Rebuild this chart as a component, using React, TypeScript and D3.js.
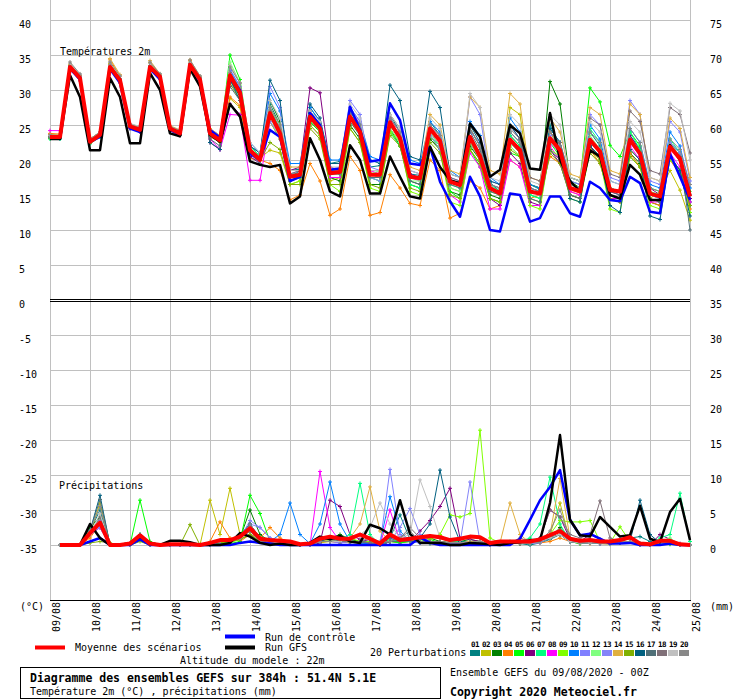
import React, { useEffect, useRef } from 'react';
import * as d3 from 'd3';

// ---- axis labels ----
const dayLabels = ['09/08', '10/08', '11/08', '12/08', '13/08', '14/08', '15/08', '16/08', '17/08',
  '18/08', '19/08', '20/08', '21/08', '22/08', '23/08', '24/08', '25/08'];
const leftTicks = [40, 35, 30, 25, 20, 15, 10, 5, 0, -5, -10, -15, -20, -25, -30, -35];
const rightTicks = [75, 70, 65, 60, 55, 50, 45, 40, 35, 30, 25, 20, 15, 10, 5, 0];

const memberNames = ['01', '02', '03', '04', '05', '06', '07', '08', '09', '10',
  '11', '12', '13', '14', '15', '16', '17', '18', '19', '20'];
const memberColors = ['#008080', '#C0C000', '#008000', '#FF8000', '#00FF00', '#800080', '#00FF80', '#FF00FF',
  '#80FF00', '#0080FF', '#8080FF', '#80FF80', '#8484F8', '#E0B040', '#80B000', '#006080',
  '#507078', '#807078', '#C0C0C0', '#888888'];

// ---- temperature 2m, every 6h (65 steps) ----
const tempMean = [23.3, 23.3, 33.3, 31.7, 22.6, 23.6, 33.3, 31.4, 24.8, 24.3, 33.3, 31.9, 24.5, 23.8, 33.6, 31.5,
  23.8, 22.8, 32.1, 29.6, 21.4, 20.0, 26.7, 23.8, 17.6, 17.9, 26.2, 24.5, 18.1, 18.3, 26.2, 24.0,
  17.9, 17.9, 25.4, 23.1, 17.6, 17.4, 24.5, 22.7, 16.9, 16.4, 23.3, 20.5, 16.0, 15.2, 22.9, 21.4,
  15.5, 15.2, 23.1, 21.4, 16.0, 15.5, 22.9, 21.2, 15.7, 15.5, 22.9, 20.9, 15.2, 14.8, 21.9, 20.2, 14.8];
const tempControl = [23.3, 23.0, 33.0, 31.5, 22.6, 23.3, 33.0, 31.0, 24.5, 24.0, 33.0, 31.5, 24.3, 23.6, 33.3, 31.5,
  24.3, 23.2, 31.7, 30.0, 20.9, 20.0, 24.3, 23.3, 17.0, 17.6, 26.7, 25.0, 18.6, 18.8, 27.6, 24.3,
  19.8, 20.0, 28.1, 25.7, 19.5, 19.3, 21.9, 16.9, 14.1, 11.9, 17.6, 14.8, 10.0, 9.8, 15.2, 15.0,
  11.2, 11.7, 14.8, 14.8, 12.4, 11.9, 16.9, 16.0, 14.3, 14.1, 17.6, 16.7, 12.6, 12.4, 20.9, 17.6, 14.3];
const tempGfs = [23.0, 23.0, 32.1, 29.0, 21.4, 21.4, 31.7, 29.0, 22.4, 22.4, 32.4, 30.0, 23.8, 23.4, 33.0, 30.5,
  23.6, 22.6, 28.0, 26.2, 19.8, 19.3, 19.0, 19.3, 13.8, 14.8, 23.1, 20.0, 15.5, 14.8, 22.1, 20.0,
  15.2, 15.2, 20.5, 17.6, 14.8, 14.5, 21.9, 19.0, 17.1, 16.7, 25.2, 23.3, 17.6, 18.6, 25.0, 23.8,
  18.8, 18.6, 26.7, 20.0, 17.0, 15.5, 21.4, 20.5, 15.0, 14.5, 19.3, 17.9, 14.3, 14.3, 22.1, 20.0, 15.2];

const tempMembers: number[][] = [
  [23.5, 23.4, 33.5, 31.8, 22.8, 23.8, 33.4, 31.5, 25.0, 24.5, 33.2, 31.8, 24.6, 24.0, 33.8, 31.8,
    24.2, 23.0, 32.5, 30.2, 22.0, 21.0, 28.0, 25.0, 18.5, 18.7, 27.5, 25.5, 19.5, 19.8, 27.0, 25.2,
    19.0, 19.2, 26.5, 24.0, 18.0, 17.8, 25.5, 23.5, 17.0, 16.5, 24.5, 22.0, 16.8, 15.5, 24.0, 22.5,
    16.5, 15.8, 25.0, 22.0, 17.0, 16.5, 24.0, 22.0, 16.0, 15.5, 23.5, 21.5, 15.0, 14.5, 22.5, 20.5, 14.0],
  [23.6, 23.5, 33.6, 32.0, 22.9, 23.9, 33.8, 31.6, 25.0, 24.6, 33.9, 32.2, 24.8, 24.0, 34.0, 31.9,
    23.5, 22.5, 28.8, 27.5, 21.0, 20.3, 21.4, 21.0, 16.5, 17.0, 25.0, 23.5, 17.0, 17.5, 26.8, 25.0,
    17.5, 17.0, 24.0, 22.0, 16.5, 16.0, 23.0, 21.5, 16.0, 15.5, 24.5, 22.0, 15.5, 15.0, 27.5, 26.5,
    16.5, 16.0, 24.0, 21.5, 15.0, 14.5, 22.0, 20.0, 16.0, 15.5, 21.5, 20.0, 14.5, 15.5, 18.5, 15.7, 11.4],
  [23.1, 23.2, 33.1, 31.5, 22.4, 23.4, 33.0, 31.2, 24.5, 24.0, 33.0, 31.6, 24.3, 23.6, 33.4, 31.3,
    23.6, 22.5, 31.5, 29.0, 21.5, 20.5, 28.5, 25.5, 18.0, 18.0, 25.5, 24.0, 17.5, 17.0, 25.0, 23.0,
    16.5, 16.5, 24.5, 22.0, 17.0, 16.5, 23.0, 21.5, 15.5, 15.0, 22.0, 20.0, 15.0, 14.5, 23.5, 22.0,
    16.5, 16.0, 31.2, 28.0, 17.0, 16.0, 22.0, 20.5, 15.0, 14.5, 21.0, 19.5, 14.0, 13.5, 20.5, 18.5, 13.5],
  [23.8, 23.7, 33.8, 32.1, 23.0, 24.0, 34.3, 32.0, 25.1, 24.5, 33.8, 32.0, 24.7, 24.2, 34.2, 31.8,
    23.3, 22.6, 29.0, 27.8, 20.2, 20.0, 19.5, 18.5, 14.3, 15.0, 19.5, 17.0, 12.1, 13.0, 20.5, 18.5,
    12.1, 12.5, 17.9, 16.0, 13.8, 13.5, 20.0, 18.5, 11.7, 12.4, 17.0, 16.0, 13.0, 13.5, 20.0, 19.0,
    14.5, 15.0, 20.5, 19.5, 15.5, 15.0, 21.5, 19.5, 14.5, 14.0, 21.0, 19.0, 14.0, 13.5, 20.0, 18.0, 13.0],
  [23.2, 23.1, 33.2, 31.6, 22.5, 23.5, 33.1, 31.3, 24.7, 24.2, 33.4, 31.9, 24.4, 23.7, 33.5, 31.4,
    23.9, 23.0, 35.0, 31.5, 22.0, 20.5, 27.0, 24.0, 17.5, 17.5, 25.5, 24.0, 18.5, 18.5, 26.0, 24.5,
    18.0, 18.0, 24.5, 22.5, 16.5, 16.0, 23.5, 21.5, 15.5, 14.5, 21.5, 19.0, 14.5, 14.0, 21.0, 20.5,
    15.0, 14.5, 22.5, 20.5, 17.5, 17.0, 30.3, 28.3, 22.1, 20.5, 24.0, 22.0, 16.0, 15.5, 22.0, 20.5, 15.5],
  [23.4, 23.3, 33.0, 31.3, 22.7, 23.6, 33.2, 31.5, 24.6, 24.1, 33.1, 31.7, 24.2, 23.5, 33.5, 31.2,
    22.5, 21.5, 28.0, 26.5, 20.5, 19.5, 27.0, 24.5, 18.5, 19.0, 30.3, 29.6, 19.0, 18.5, 26.5, 24.5,
    18.0, 17.5, 25.5, 23.5, 18.0, 17.5, 24.0, 22.0, 17.0, 16.5, 22.5, 20.0, 14.5, 13.5, 21.0, 19.5,
    14.0, 13.5, 21.5, 19.5, 15.0, 14.5, 22.0, 20.0, 15.5, 15.0, 23.5, 21.5, 16.0, 15.0, 22.5, 21.0, 14.5],
  [23.0, 23.0, 33.0, 31.4, 22.3, 23.3, 33.0, 31.0, 24.5, 24.1, 33.0, 31.5, 24.3, 23.6, 33.2, 31.2,
    24.0, 23.0, 32.5, 30.0, 22.0, 20.5, 27.5, 24.5, 18.5, 18.5, 26.5, 24.5, 18.5, 18.5, 27.0, 24.5,
    17.5, 17.0, 24.0, 22.0, 16.5, 16.0, 23.5, 22.0, 16.5, 16.0, 22.5, 20.5, 16.5, 15.5, 23.5, 22.0,
    15.0, 14.5, 24.5, 22.5, 16.5, 16.0, 24.5, 22.5, 16.0, 15.5, 24.0, 21.5, 15.5, 15.0, 23.0, 21.0, 15.0],
  [24.2, 24.2, 33.0, 31.4, 22.5, 23.5, 33.0, 31.0, 24.5, 24.0, 33.2, 31.5, 24.5, 23.8, 33.0, 31.0,
    23.0, 21.5, 26.5, 26.4, 17.1, 17.1, 25.5, 23.0, 17.5, 18.0, 25.0, 23.5, 17.5, 17.5, 27.5, 25.0,
    18.5, 18.0, 26.0, 24.0, 17.5, 17.0, 24.0, 22.0, 15.0, 14.0, 21.0, 19.0, 13.0, 13.0, 20.0, 19.0,
    13.5, 13.5, 22.0, 20.0, 15.5, 15.0, 23.0, 21.0, 14.5, 14.5, 22.0, 20.0, 14.0, 14.0, 21.0, 19.0, 14.0],
  [23.5, 23.4, 33.4, 31.8, 22.7, 23.7, 33.4, 31.5, 24.9, 24.4, 33.4, 31.9, 24.5, 23.9, 33.7, 31.6,
    23.8, 22.8, 32.0, 29.5, 21.5, 20.0, 25.5, 23.0, 16.5, 17.0, 25.0, 23.5, 16.5, 15.5, 24.5, 22.5,
    16.0, 15.5, 24.0, 22.5, 15.5, 15.0, 23.5, 21.5, 14.0, 13.5, 21.5, 19.5, 14.5, 14.0, 22.0, 20.5,
    13.5, 13.0, 21.5, 20.5, 14.5, 14.0, 21.5, 20.0, 13.0, 12.5, 20.5, 19.0, 13.5, 13.0, 20.0, 18.5, 12.5],
  [23.3, 23.2, 33.3, 31.7, 22.6, 23.6, 33.3, 31.4, 24.8, 24.3, 33.3, 31.9, 24.5, 23.8, 33.6, 31.5,
    23.5, 22.5, 32.8, 30.5, 22.5, 21.0, 29.5, 27.0, 19.5, 19.5, 27.5, 25.5, 20.0, 20.0, 27.5, 25.5,
    20.5, 20.0, 26.5, 24.5, 20.0, 19.5, 25.5, 24.0, 18.5, 17.5, 25.5, 23.5, 17.5, 16.5, 26.0, 24.0,
    16.5, 16.0, 24.5, 22.5, 17.5, 17.0, 25.0, 23.0, 17.0, 16.5, 24.5, 22.5, 16.5, 16.0, 24.0, 22.0, 16.0],
  [23.4, 23.4, 33.5, 31.9, 22.8, 23.8, 33.5, 31.6, 25.0, 24.5, 33.5, 32.0, 24.6, 24.0, 33.8, 31.7,
    24.5, 23.5, 33.0, 30.5, 22.0, 21.0, 30.5, 27.5, 18.5, 18.5, 27.0, 25.0, 19.5, 19.5, 28.5, 26.5,
    19.0, 18.5, 26.0, 24.0, 18.5, 18.0, 25.0, 23.5, 17.5, 17.0, 29.0, 26.5, 17.0, 16.5, 25.0, 23.0,
    16.0, 15.5, 23.5, 22.0, 17.0, 16.5, 26.5, 25.0, 17.5, 17.0, 28.5, 26.5, 17.0, 16.5, 25.5, 24.0, 17.0],
  [23.2, 23.3, 33.2, 31.6, 22.5, 23.5, 33.4, 31.5, 24.7, 24.2, 33.3, 31.8, 24.4, 23.7, 33.5, 31.4,
    23.7, 22.7, 34.0, 31.0, 21.5, 20.0, 26.0, 23.5, 17.0, 17.5, 26.0, 24.0, 18.0, 18.0, 25.5, 23.5,
    18.0, 18.5, 24.5, 22.5, 17.0, 17.0, 24.0, 22.0, 16.0, 15.5, 22.5, 20.0, 15.5, 15.0, 22.0, 20.5,
    15.5, 15.0, 22.5, 21.0, 17.5, 17.0, 23.5, 21.5, 16.0, 15.5, 23.0, 21.0, 15.5, 15.0, 22.5, 20.5, 15.5],
  [23.3, 23.2, 33.4, 31.8, 22.6, 23.6, 33.2, 31.4, 24.9, 24.4, 33.5, 32.0, 24.6, 23.9, 33.6, 31.5,
    24.0, 23.2, 32.5, 30.0, 21.0, 19.5, 25.5, 23.5, 18.0, 18.5, 27.0, 25.0, 18.0, 18.5, 27.5, 25.5,
    17.5, 17.0, 25.0, 23.0, 18.5, 18.0, 23.5, 21.5, 17.0, 16.5, 24.0, 22.5, 16.5, 16.0, 23.0, 21.5,
    15.5, 15.0, 22.5, 21.0, 16.0, 15.5, 22.5, 21.0, 15.0, 14.5, 22.5, 20.5, 15.0, 14.5, 22.5, 21.0, 15.0],
  [23.6, 23.6, 33.7, 32.2, 23.0, 24.0, 34.5, 32.2, 25.2, 24.7, 34.2, 32.3, 24.9, 24.3, 34.3, 32.0,
    24.5, 23.5, 33.5, 31.0, 21.5, 20.5, 27.5, 25.0, 19.0, 19.0, 27.0, 25.0, 18.5, 18.5, 26.5, 24.5,
    18.0, 17.5, 26.5, 24.5, 19.0, 18.5, 26.5, 25.0, 18.5, 18.0, 29.0, 27.5, 18.5, 18.0, 29.5, 28.0,
    17.5, 17.0, 26.0, 24.0, 18.0, 17.5, 27.5, 26.5, 18.5, 18.0, 28.0, 26.5, 17.5, 17.0, 26.0, 24.5, 17.5],
  [23.2, 23.2, 33.1, 31.5, 22.4, 23.4, 33.1, 31.2, 24.6, 24.1, 33.1, 31.7, 24.3, 23.6, 33.4, 31.3,
    23.5, 22.5, 31.0, 28.5, 21.0, 20.0, 22.5, 21.5, 16.5, 16.5, 24.5, 23.0, 16.5, 16.5, 24.5, 22.5,
    16.5, 16.0, 23.5, 22.0, 16.0, 15.5, 22.5, 21.0, 15.0, 14.5, 21.5, 19.5, 14.5, 14.0, 21.5, 20.5,
    14.5, 14.0, 21.0, 19.5, 15.0, 14.5, 21.0, 19.5, 14.5, 14.0, 20.5, 19.0, 14.5, 14.0, 20.5, 18.5, 13.5],
  [23.4, 23.3, 33.2, 31.6, 22.6, 23.5, 33.2, 31.3, 24.7, 24.2, 33.2, 31.8, 24.4, 23.7, 33.5, 31.4,
    22.5, 21.5, 31.5, 28.5, 22.0, 21.0, 31.4, 28.5, 17.5, 18.5, 28.0, 26.0, 19.5, 19.5, 27.0, 25.0,
    20.0, 19.5, 30.7, 28.5, 20.5, 20.0, 29.8, 27.5, 18.0, 17.5, 25.0, 22.5, 17.0, 16.5, 25.0, 23.0,
    16.0, 15.5, 24.5, 22.5, 14.5, 14.0, 22.0, 20.5, 13.5, 12.5, 21.5, 20.0, 12.0, 11.5, 20.5, 18.5, 12.0],
  [23.3, 23.2, 33.4, 31.7, 22.5, 23.6, 33.3, 31.4, 24.8, 24.3, 33.3, 31.9, 24.5, 23.8, 33.7, 31.5,
    23.0, 22.0, 30.5, 28.5, 21.0, 19.5, 26.5, 24.0, 17.0, 17.5, 26.0, 24.5, 18.0, 18.0, 25.5, 23.5,
    17.5, 17.5, 25.0, 23.0, 17.0, 16.5, 24.5, 23.0, 16.5, 16.0, 24.0, 21.5, 15.5, 15.0, 22.5, 21.0,
    14.5, 14.0, 21.5, 20.0, 15.0, 14.5, 22.5, 21.0, 15.5, 15.0, 23.0, 21.0, 14.5, 14.0, 22.0, 20.5, 10.0],
  [23.4, 23.4, 33.5, 32.0, 22.7, 23.7, 33.6, 31.6, 24.9, 24.4, 33.5, 32.0, 24.6, 24.0, 33.8, 31.7,
    24.0, 23.0, 32.5, 30.0, 21.5, 20.5, 27.0, 24.5, 18.0, 18.5, 27.0, 25.0, 18.5, 18.5, 26.5, 24.5,
    18.0, 18.0, 26.0, 24.0, 17.5, 17.5, 25.0, 23.5, 17.5, 17.0, 24.5, 22.0, 16.5, 16.0, 24.5, 23.0,
    17.5, 17.0, 24.0, 22.5, 17.5, 17.0, 26.0, 25.0, 18.0, 17.5, 27.0, 25.5, 18.5, 18.0, 27.5, 26.5, 21.0],
  [23.5, 23.5, 33.8, 32.2, 23.0, 24.0, 34.0, 32.0, 25.2, 24.8, 33.8, 32.3, 24.8, 24.2, 34.0, 32.0,
    24.2, 23.4, 33.5, 31.0, 22.5, 21.0, 28.5, 26.0, 18.5, 18.5, 27.0, 25.5, 19.0, 19.0, 28.0, 26.0,
    18.5, 18.5, 26.5, 24.5, 18.5, 18.0, 26.0, 24.5, 18.0, 17.5, 29.5, 27.5, 17.5, 17.0, 26.5, 25.0,
    17.0, 16.5, 26.5, 25.0, 17.5, 17.0, 25.5, 24.0, 17.0, 16.5, 25.5, 24.0, 17.5, 17.0, 28.1, 27.0, 20.0],
  [23.6, 23.5, 34.0, 32.3, 23.0, 24.0, 34.0, 32.0, 25.1, 24.6, 34.0, 32.3, 24.8, 24.2, 34.3, 32.0,
    24.0, 23.2, 33.3, 31.0, 21.5, 20.5, 27.5, 25.0, 18.0, 18.0, 26.5, 25.0, 18.5, 18.5, 27.0, 25.0,
    18.0, 18.0, 26.0, 24.0, 17.5, 17.5, 25.0, 23.5, 17.0, 16.5, 24.5, 22.0, 16.5, 16.0, 24.0, 22.5,
    16.0, 15.5, 24.0, 22.0, 16.5, 16.0, 24.0, 22.5, 16.0, 15.5, 24.5, 22.5, 16.0, 15.5, 23.0, 21.5, 16.5],
];

// ---- precipitation (mm / 6h), steps 1..64 ----
const precipMean = [0, 0, 0, 1.7, 3.2, 0, 0, 0.2, 1.4, 0.2, 0, 0.1, 0.1, 0.1, 0, 0.3,
  0.7, 0.7, 1.2, 2.4, 0.9, 0.7, 0.6, 0.5, 0.1, 0.2, 0.9, 1.2, 0.9, 0.9, 1.5, 0.9,
  0.2, 1.5, 0.7, 0.9, 1.1, 1.3, 1.1, 0.7, 0.9, 1.2, 1.1, 0.3, 0.5, 0.5, 0.5, 0.5,
  0.8, 1.4, 2.0, 0.9, 0.6, 0.7, 0.5, 0.5, 0.7, 1.1, 0.2, 0.1, 0.6, 0.6, 0.1, 0];
const precipControl = [0, 0, 0, 0.5, 1.0, 0, 0, 0, 0.8, 0, 0, 0, 0, 0, 0, 0,
  0, 0, 0.3, 0.5, 0.3, 0.2, 0, 0, 0, 0, 0, 0, 0, 0, 0, 0,
  0, 0, 0, 0, 1.1, 0.3, 0, 0, 0, 0, 0, 0, 0, 0, 0.9, 3.6,
  6.4, 8.3, 10.7, 3.6, 1.4, 1.6, 0.9, 0.2, 0.2, 0.3, 0, 0, 0, 0.2, 0, 0];
const precipGfs = [0, 0, 0, 3.0, 1.0, 0, 0, 0.3, 1.2, 0.3, 0, 0.6, 0.6, 0.4, 0, 0,
  0, 0.3, 1.7, 1.2, 0.3, 0, 0.2, 0, 0, 0.3, 1.2, 0.8, 1.3, 0.5, 0.3, 2.9,
  2.4, 1.5, 6.4, 1.6, 0.3, 0.3, 0.3, 0, 0, 0.3, 0.2, 0.1, 0, 0.3, 0.4, 0.7,
  0.7, 6.0, 15.7, 3.6, 1.4, 1.2, 4.0, 2.6, 1.2, 1.4, 5.6, 0.9, 0.4, 4.7, 6.6, 0.7];

const precipMembers: number[][] = [
  [0, 0, 0, 2.0, 5.0, 0, 0, 0, 1.0, 0, 0, 0, 0, 0, 0, 0,
    0.2, 0.5, 1.5, 3.0, 0.8, 0.3, 0.5, 0.2, 0, 0, 0.5, 0.8, 0.3, 0.5, 0.3, 0.2,
    0, 1.0, 4.3, 0.8, 0.3, 0.2, 0.5, 0.3, 0.5, 0.3, 0.2, 0, 0.2, 0.3, 0.2, 0,
    0.3, 0.8, 1.5, 0.5, 0.2, 0.3, 0.2, 0.5, 0.5, 1.0, 1.2, 0.5, 0.2, 0.1, 0, 0],
  [0, 0, 0, 1.5, 6.0, 0.2, 0, 0, 0.8, 0, 0, 0, 0, 0, 0, 6.4,
    1.5, 8.1, 1.5, 2.5, 0.5, 0.3, 0.3, 0.2, 0, 0, 0.3, 0.5, 0.8, 0.3, 0.5, 0.3,
    0, 0.5, 0.3, 0.5, 0.3, 0.5, 0.2, 0.3, 0.2, 0.5, 0.3, 0, 0.2, 0.3, 0.3, 0.2,
    0.5, 1.5, 6.0, 0.5, 0.2, 0.3, 0.2, 0.1, 0.3, 0.5, 0.1, 0, 0.2, 0.5, 0, 0],
  [0, 0, 0, 2.5, 4.0, 0, 0, 0, 1.5, 0, 0, 0, 0, 0, 0, 0,
    0.5, 0.5, 1.0, 5.0, 1.5, 0.5, 0.3, 0.2, 0, 0.3, 0.8, 1.0, 1.5, 0.8, 0.5, 0.5,
    0, 1.0, 0.5, 0.5, 0.8, 1.0, 0.5, 0.2, 0.5, 0.8, 0.5, 0, 0.3, 0.2, 0.3, 0.3,
    0.5, 1.0, 2.5, 1.0, 0.3, 0.5, 0.3, 0.3, 0.5, 1.0, 0.2, 0, 0.3, 0.5, 0, 0],
  [0, 0, 0, 1.0, 3.0, 0, 0, 0, 0.8, 0, 0, 0, 0, 0, 0, 0.5,
    3.3, 1.0, 0.5, 1.5, 1.0, 2.5, 1.0, 0.3, 0, 0, 0.5, 0.5, 0.3, 0.5, 0.5, 0.3,
    0, 0.5, 0.5, 0.5, 0.8, 1.0, 1.5, 0.5, 0.3, 0.3, 0.5, 0, 0.3, 0.2, 0.2, 0.3,
    0.3, 0.5, 1.0, 0.5, 0.3, 0.2, 0.3, 0.2, 0.3, 0.5, 0, 0, 0.2, 0.3, 0, 0],
  [0, 0, 0, 1.8, 3.5, 0, 0, 0, 6.4, 0.5, 0, 0, 0, 0, 0, 0,
    0.3, 0.2, 0.5, 7.1, 4.5, 0.5, 0.3, 0.2, 0, 0, 0.5, 0.8, 0.5, 0.5, 0.3, 0.5,
    0, 0.5, 0.3, 0.5, 0.5, 0.8, 0.3, 0.2, 0.5, 0.3, 0.5, 0, 0.2, 0.3, 0.2, 0.3,
    0.5, 1.0, 1.5, 0.5, 0.2, 0.3, 0.3, 0.2, 0.5, 0.5, 0, 0, 0.3, 0.2, 0, 0],
  [0, 0, 0, 1.5, 2.5, 0, 0, 0, 1.2, 0, 0, 0, 0, 0, 0, 0,
    0.5, 0.5, 0.8, 1.5, 0.5, 0.3, 0.3, 0.2, 0, 0, 0.3, 6.4, 5.5, 1.5, 0.8, 0.5,
    0, 1.0, 0.5, 0.5, 2.0, 3.5, 5.5, 8.1, 1.0, 0.8, 0.5, 0, 0.3, 0.3, 0.2, 0.5,
    1.0, 5.0, 4.0, 0.8, 0.5, 1.5, 0.8, 0.5, 0.5, 0.5, 0.2, 0, 1.5, 0.8, 0.2, 0],
  [0, 0, 0, 2.0, 3.0, 0, 0, 0, 1.0, 0, 0, 0, 0, 0, 0, 0,
    0.3, 0.5, 1.0, 2.0, 0.5, 0.5, 0.3, 0.2, 0, 0, 0.5, 1.0, 0.8, 1.5, 8.8, 1.5,
    0, 0.8, 0.5, 0.5, 0.3, 0.5, 0.3, 0.5, 0.5, 0.3, 0.5, 0, 0.2, 0.5, 0.5, 1.0,
    3.0, 9.7, 3.0, 0.5, 0.3, 0.5, 0.3, 0.2, 0.3, 0.5, 0, 0, 1.0, 1.5, 7.4, 0.5],
  [0, 0, 0, 1.5, 2.5, 0, 0, 0, 1.0, 0, 0, 0, 0, 0, 0, 0,
    0.5, 0.5, 1.2, 1.5, 0.5, 0.3, 0.3, 0.2, 0, 0, 10.5, 2.5, 0.5, 0.5, 0.3, 0.5,
    0, 5.0, 0.5, 0.5, 0.3, 0.5, 0.3, 0.2, 0.3, 0.3, 0.5, 0, 0.2, 0.3, 0.3, 0.3,
    0.5, 1.0, 1.5, 0.5, 0.3, 0.3, 0.2, 0.2, 0.3, 0.5, 0, 0, 0.3, 0.3, 0, 0],
  [0, 0, 0, 1.5, 3.5, 0, 0, 0, 1.0, 0, 0, 0, 0, 0, 0, 0,
    0.5, 0.3, 0.8, 1.5, 0.5, 0.5, 0.3, 0.3, 0, 0, 0.5, 0.8, 0.5, 1.0, 0.5, 0.5,
    0, 0.5, 0.5, 0.8, 0.5, 0.8, 1.5, 4.3, 4.0, 4.5, 16.4, 1.0, 0.3, 0.3, 0.5, 0.3,
    0.5, 1.5, 3.5, 3.3, 3.3, 3.5, 0.5, 0.3, 2.6, 0.5, 0, 0, 0.3, 0.5, 0, 0],
  [0, 0, 0, 1.5, 3.0, 0, 0, 0, 0.8, 0, 0, 0, 0, 0, 0, 0.3,
    0.5, 0.5, 1.0, 2.0, 0.8, 0.5, 1.5, 6.0, 1.5, 0.2, 3.0, 9.0, 3.0, 0.5, 0.3, 0.2,
    0.3, 6.9, 2.0, 0.5, 0.3, 0.5, 0.3, 0.2, 0.3, 0.3, 0.5, 0, 0.2, 0.3, 0.3, 0.3,
    0.5, 1.0, 2.0, 0.5, 0.3, 0.3, 0.2, 0.2, 0.3, 0.5, 0, 0, 0.3, 0.5, 0, 0],
  [0, 0, 0, 2.0, 3.5, 0, 0, 0, 1.0, 0, 0, 0, 0, 0, 0, 0,
    0.5, 0.5, 1.0, 3.0, 2.5, 1.0, 0.5, 0.3, 0, 0, 0.5, 0.5, 0.8, 0.5, 0.5, 0.3,
    0, 10.8, 1.5, 0.5, 0.3, 0.5, 0.3, 0.2, 0.3, 0.5, 0.3, 0, 0.2, 0.3, 0.3, 0.2,
    0.3, 1.0, 1.5, 0.5, 0.3, 0.3, 0.3, 0.2, 0.3, 0.5, 0, 0, 0.3, 0.3, 0, 0],
  [0, 0, 0, 1.8, 3.0, 0, 0, 0, 1.5, 0, 0, 0, 0, 0, 0, 0,
    0.5, 0.5, 1.0, 2.5, 0.8, 0.5, 0.3, 0.3, 0, 0, 0.5, 0.8, 0.5, 0.5, 0.5, 0.3,
    0, 0.5, 0.5, 0.5, 0.5, 0.5, 0.5, 0.3, 0.3, 0.3, 0.5, 0, 0.3, 0.3, 0.3, 0.3,
    0.5, 1.0, 2.0, 0.5, 0.3, 0.5, 0.3, 0.3, 0.5, 1.0, 0, 0, 0.5, 1.0, 0, 0],
  [0, 0, 0, 1.5, 2.5, 0, 0, 0, 1.0, 0, 0, 0, 0, 0, 0, 0,
    0.5, 0.5, 1.0, 3.5, 2.5, 1.0, 0.5, 0.3, 0, 0, 0.5, 0.5, 0.3, 0.5, 0.5, 0.3,
    0, 0.5, 2.5, 5.2, 1.5, 0.5, 0.3, 0.2, 0.3, 9.0, 0.5, 0, 0.3, 0.3, 0.3, 0.3,
    0.5, 1.0, 1.5, 0.5, 0.3, 0.5, 0.3, 0.3, 0.3, 0.5, 0, 0, 0.3, 0.3, 0, 0],
  [0, 0, 0, 1.5, 3.0, 0, 0, 0, 1.0, 0, 0, 0, 0, 0, 0, 0,
    0.5, 0.5, 1.0, 2.0, 0.8, 0.5, 0.3, 0.3, 0, 0, 0.5, 0.8, 0.5, 1.0, 3.0, 8.3,
    2.0, 0.5, 0.5, 0.5, 0.5, 0.5, 0.5, 0.3, 0.3, 0.5, 0.3, 0, 0.3, 6.0, 1.5, 0.3,
    0.5, 1.5, 9.5, 1.0, 0.3, 0.5, 0.3, 0.3, 0.5, 0.5, 0, 0, 0.3, 0.3, 0, 0],
  [0, 0, 0, 0.3, 0.5, 0.3, 0, 0, 0.5, 0, 0, 0, 0, 2.9, 0, 0,
    0.3, 0.5, 0.8, 1.5, 0.5, 0.5, 0.3, 0.3, 0, 0, 0.5, 0.5, 0.5, 0.5, 0.5, 0.3,
    0, 0.5, 0.5, 0.5, 0.5, 0.5, 0.5, 0.3, 0.3, 0.3, 0.5, 0, 0.3, 0.3, 0.3, 0.3,
    0.5, 1.0, 1.5, 0.5, 0.3, 0.3, 0.3, 0.3, 0.3, 0.5, 0, 0, 0.3, 0.3, 0, 0],
  [0, 0, 0, 2.0, 7.1, 0, 0, 0, 1.5, 0, 0, 0, 0, 0, 0, 0,
    0.5, 0.5, 1.0, 3.0, 1.0, 0.5, 0.3, 0.3, 0, 0, 0.5, 1.0, 0.5, 0.5, 0.5, 0.3,
    0, 0.5, 0.5, 0.8, 1.0, 3.0, 10.7, 4.0, 0.5, 0.3, 0.3, 0, 0.3, 0.3, 0.3, 0.3,
    0.5, 1.0, 1.5, 0.5, 0.3, 0.3, 0.3, 0.3, 0.3, 0.5, 6.4, 1.5, 0.3, 0.3, 0, 0],
  [0, 0, 0, 2.0, 6.5, 0, 0, 0, 1.0, 0, 0, 0, 0, 0, 0, 0,
    0.5, 0.5, 1.0, 2.5, 0.8, 0.5, 0.3, 0.3, 0, 0, 0.5, 0.5, 0.5, 0.5, 0.5, 0.3,
    0, 0.5, 0.5, 0.5, 0.5, 0.5, 0.5, 0.3, 0.3, 0.3, 0.5, 0, 0.3, 0.3, 0.3, 0.3,
    0.5, 1.0, 1.5, 0.5, 0.3, 0.3, 0.3, 0.3, 0.3, 0.5, 0, 0, 0.3, 0.3, 0, 0],
  [0, 0, 0, 1.5, 4.0, 0, 0, 0, 1.0, 0, 0, 0, 0, 0, 0, 0,
    0.5, 0.5, 1.0, 2.0, 0.5, 0.5, 0.3, 0.3, 0, 0, 0.5, 0.5, 0.5, 0.5, 0.5, 0.3,
    0, 0.5, 1.0, 2.5, 1.0, 0.5, 0.5, 0.3, 0.3, 0.3, 0.5, 0, 0.3, 0.3, 1.0, 0.5,
    1.0, 5.0, 4.0, 1.5, 1.0, 1.5, 6.3, 1.0, 0.5, 0.5, 0, 0, 0.3, 0.3, 0, 0],
  [0, 0, 0, 1.5, 4.5, 0, 0, 0, 1.2, 0, 0, 0, 0, 0, 0, 0,
    0.5, 0.5, 1.0, 2.5, 0.8, 0.5, 0.3, 0.3, 0, 0, 0.5, 0.5, 0.5, 1.0, 1.5, 2.5,
    6.0, 3.0, 1.0, 1.5, 9.3, 5.5, 1.0, 0.3, 0.3, 0.3, 0.5, 0, 0.3, 0.3, 0.3, 0.3,
    0.5, 1.0, 1.5, 0.5, 0.3, 0.3, 0.3, 0.3, 0.3, 0.5, 0, 0, 0.3, 0.3, 0, 0],
  [0, 0, 0, 2.0, 5.5, 0, 0, 0, 1.0, 0, 0, 0, 0, 0, 0, 0,
    0.5, 0.5, 1.0, 3.0, 1.0, 0.5, 0.5, 0.3, 0, 0, 0.5, 0.5, 0.8, 0.5, 0.5, 1.0,
    0.5, 0.5, 1.0, 2.0, 0.5, 0.5, 0.5, 0.3, 0.3, 0.3, 0.5, 0, 0.3, 0.3, 0.3, 0.3,
    0.5, 2.0, 5.0, 1.0, 0.3, 0.5, 0.3, 0.3, 0.5, 0.5, 0, 0, 0.3, 0.3, 0, 0],
];

const FONT = '"DejaVu Sans Mono", monospace';

const App: React.FC = () => {
  const svgRef = useRef<SVGSVGElement>(null);

  useEffect(() => {
    if (!svgRef.current) return;

    const svg = d3.select(svgRef.current);
    svg.selectAll("*").remove();

    const width = 740;
    const height = 700;
    const plot = { left: 50, right: 690, top: 0, bottom: 600 };

    svg.append("rect").attr("width", width).attr("height", height).attr("fill", "#fff");

    // 6h steps, 64 of them over 16 days
    const xScale = d3.scaleLinear().domain([0, 64]).range([plot.left, plot.right]);
    // left axis °C, right axis = left + 35 (mm in the lower panel)
    const yLeft = d3.scaleLinear().domain([-35, 40]).range([545, 20]);
    const yRight = d3.scaleLinear().domain([0, 75]).range([545, 20]);

    const grid = svg.append("g").attr("shape-rendering", "crispEdges");

    dayLabels.forEach((_, d) => {
      const x = Math.round(xScale(d * 4)) + 0.5;
      grid.append("line")
        .attr("x1", x).attr("x2", x)
        .attr("y1", plot.top).attr("y2", plot.bottom)
        .attr("stroke", "#c0c0c0").attr("stroke-width", 1);
    });

    leftTicks.forEach(v => {
      if (v === 0) return;
      const y = Math.round(yLeft(v)) + 0.5;
      grid.append("line")
        .attr("x1", plot.left).attr("x2", plot.right)
        .attr("y1", y).attr("y2", y)
        .attr("stroke", "#c0c0c0").attr("stroke-width", 1);
    });

    // double zero line
    [-1, 1].forEach(dy => {
      const y = Math.round(yLeft(0)) + dy + 0.5;
      grid.append("line")
        .attr("x1", plot.left).attr("x2", plot.right)
        .attr("y1", y).attr("y2", y)
        .attr("stroke", "#000").attr("stroke-width", 1);
    });

    grid.append("line")
      .attr("x1", plot.left).attr("x2", plot.right + 1)
      .attr("y1", plot.bottom + 0.5).attr("y2", plot.bottom + 0.5)
      .attr("stroke", "#000").attr("stroke-width", 1);

    // axis labels
    leftTicks.forEach(v => {
      svg.append("text")
        .attr("x", 19).attr("y", yLeft(v) + 7.5)
        .attr("font-family", FONT).attr("font-size", 10)
        .text(String(v));
    });
    rightTicks.forEach(v => {
      svg.append("text")
        .attr("x", 710).attr("y", yRight(v) + 7.5)
        .attr("font-family", FONT).attr("font-size", 10)
        .text(String(v));
    });

    dayLabels.forEach((lab, d) => {
      const x = xScale(d * 4) + 10;
      svg.append("text")
        .attr("transform", `translate(${x},602) rotate(-90)`)
        .attr("text-anchor", "end")
        .attr("font-family", FONT).attr("font-size", 10)
        .text(lab);
    });

    svg.append("text").attr("x", 20).attr("y", 610)
      .attr("font-family", FONT).attr("font-size", 10).text("(°C)");
    svg.append("text").attr("x", 710).attr("y", 610)
      .attr("font-family", FONT).attr("font-size", 10).text("(mm)");

    svg.append("text").attr("x", 60).attr("y", 55)
      .attr("font-family", FONT).attr("font-size", 10).text("Températures 2m");
    svg.append("text").attr("x", 59).attr("y", 489)
      .attr("font-family", FONT).attr("font-size", 10).text("Précipitations");

    const series = svg.append("g");

    const tempLine = d3.line<number>()
      .x((_, i) => xScale(i))
      .y(d => yLeft(d));
    const precipLine = d3.line<number>()
      .x((_, i) => xScale(i + 1))
      .y(d => yRight(d));

    const drawMarkers = (vals: number[], offset: number, yS: d3.ScaleLinear<number, number>, color: string) => {
      const p = vals.map((v, i) => {
        const x = xScale(i + offset);
        const y = yS(v);
        return `M${x - 2},${y}h4M${x},${y - 2}v4`;
      }).join("");
      series.append("path").attr("d", p).attr("fill", "none").attr("stroke", color).attr("stroke-width", 1);
    };

    const drawSeries = (temps: number[], precs: number[], color: string, w: number, markers: boolean) => {
      series.append("path").datum(temps)
        .attr("d", tempLine)
        .attr("fill", "none").attr("stroke", color).attr("stroke-width", w)
        .attr("stroke-linejoin", "round");
      series.append("path").datum(precs)
        .attr("d", precipLine)
        .attr("fill", "none").attr("stroke", color).attr("stroke-width", w)
        .attr("stroke-linejoin", "round");
      if (markers) {
        drawMarkers(temps, 0, yLeft, color);
        drawMarkers(precs, 1, yRight, color);
      }
    };

    tempMembers.forEach((t, k) => drawSeries(t, precipMembers[k], memberColors[k], 1, true));
    drawSeries(tempControl, precipControl, "#0000FF", 2.5, false);
    drawSeries(tempGfs, precipGfs, "#000000", 2.5, false);
    drawSeries(tempMean, precipMean, "#FF0000", 4, false);

    // ---- legend ----
    const legend = svg.append("g").attr("font-family", FONT).attr("font-size", 10);

    legend.append("line").attr("x1", 35).attr("x2", 65).attr("y1", 647.5).attr("y2", 647.5)
      .attr("stroke", "#FF0000").attr("stroke-width", 4);
    legend.append("text").attr("x", 75).attr("y", 651).text("Moyenne des scénarios");

    legend.append("line").attr("x1", 225).attr("x2", 255).attr("y1", 636.5).attr("y2", 636.5)
      .attr("stroke", "#0000FF").attr("stroke-width", 4);
    legend.append("text").attr("x", 265).attr("y", 641).text("Run de contrôle");
    legend.append("line").attr("x1", 225).attr("x2", 255).attr("y1", 647.5).attr("y2", 647.5)
      .attr("stroke", "#000").attr("stroke-width", 4);
    legend.append("text").attr("x", 265).attr("y", 651).text("Run GFS");

    legend.append("text").attr("x", 180).attr("y", 664).text("Altitude du modele : 22m");

    legend.append("text").attr("x", 370).attr("y", 656).text("20 Perturbations");
    memberColors.forEach((c, k) => {
      const x = 470 + k * 11;
      legend.append("rect").attr("x", x).attr("y", 650).attr("width", 10).attr("height", 6)
        .attr("fill", c);
      legend.append("text").attr("x", x + 5).attr("y", 647)
        .attr("text-anchor", "middle").attr("font-size", 7.5).attr("font-weight", "bold")
        .attr("letter-spacing", -0.5)
        .text(memberNames[k]);
    });

    legend.append("rect").attr("x", 20.5).attr("y", 667.5).attr("width", 420).attr("height", 31)
      .attr("fill", "none").attr("stroke", "#000").attr("stroke-width", 1);
    legend.append("text").attr("x", 30).attr("y", 682)
      .attr("font-size", 11.5).attr("font-weight", "bold")
      .text("Diagramme des ensembles GEFS sur 384h : 51.4N 5.1E");
    legend.append("text").attr("x", 30).attr("y", 695)
      .text("Température 2m (°C) , précipitations (mm)");

    legend.append("text").attr("x", 450).attr("y", 676)
      .text("Ensemble GEFS du 09/08/2020 - 00Z");
    legend.append("text").attr("x", 450).attr("y", 696)
      .attr("font-size", 11.5).attr("font-weight", "bold")
      .text("Copyright 2020 Meteociel.fr");
  }, []);

  return (
    <svg ref={svgRef} width="740" height="700"
      style={{ position: 'absolute', left: 0, top: 0, background: '#fff' }}></svg>
  );
};

export default App;
